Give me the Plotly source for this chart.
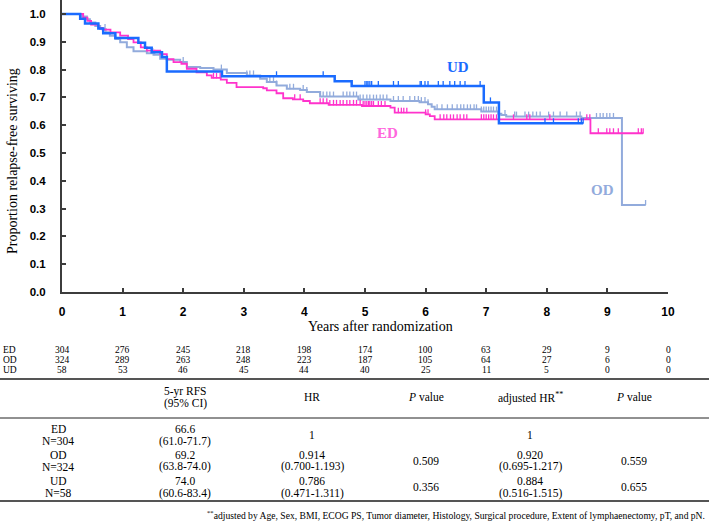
import numpy as np
import plotly.graph_objects as go

# ---------------- Kaplan-Meier data ----------------
ed_time = [0, 0.35, 0.42, 0.48, 0.60, 0.67, 0.80, 0.96, 1.09, 1.18, 1.30, 1.40, 1.62, 1.73, 1.84,
           1.97, 2.06, 2.22, 2.39, 2.47, 2.62, 2.72, 2.88, 3.32, 3.38, 3.54, 3.65, 3.81, 3.98, 4.09,
           4.40, 4.95, 5.42, 5.49, 6.00, 6.07, 6.15, 8.72]
ed_surv = [1.0, 0.987, 0.975, 0.962, 0.950, 0.944, 0.934, 0.922, 0.910, 0.898, 0.880, 0.868, 0.856,
           0.838, 0.827, 0.821, 0.803, 0.790, 0.779, 0.770, 0.764, 0.752, 0.737, 0.733, 0.725, 0.715,
           0.697, 0.693, 0.687, 0.679, 0.673, 0.669, 0.663, 0.645, 0.639, 0.633, 0.621, 0.571]
ed_end = 9.59
ed_censor = [2.50, 2.55, 2.61, 3.84, 3.93, 4.26, 4.31, 4.37, 4.42, 4.48, 4.53, 4.59, 4.64, 4.70,
             4.75, 4.81, 4.86, 4.92, 4.97, 5.00, 5.03, 5.06, 5.08, 5.11, 5.14, 5.22, 5.27, 5.33,
             5.55, 5.60, 5.64, 5.69, 6.00, 6.04, 6.24, 6.30, 6.35, 6.41, 6.46, 6.52, 6.57, 6.63,
             6.68, 6.92, 6.96, 7.00, 7.04, 7.08, 7.12, 7.17, 7.45, 7.67, 7.72, 8.05, 8.66, 8.71,
             8.85, 8.99, 9.04, 9.10, 9.18, 9.51, 9.56, 9.59]

od_time = [0, 0.33, 0.41, 0.46, 0.55, 0.63, 0.72, 0.79, 0.88, 0.96, 1.07, 1.18, 1.40, 1.51, 1.62,
           1.73, 1.95, 2.06, 2.28, 2.50, 2.72, 3.05, 3.27, 3.38, 3.54, 3.71, 3.93, 4.04, 4.26, 4.89,
           5.42, 5.90, 6.04, 6.10, 6.15, 6.92, 7.20, 7.25, 7.33, 8.57, 9.24]
od_surv = [1.0, 0.991, 0.981, 0.969, 0.957, 0.946, 0.934, 0.922, 0.910, 0.898, 0.880, 0.866, 0.859,
           0.853, 0.839, 0.835, 0.827, 0.809, 0.806, 0.800, 0.788, 0.779, 0.767, 0.755, 0.743, 0.731,
           0.727, 0.719, 0.703, 0.692, 0.687, 0.683, 0.675, 0.666, 0.657, 0.649, 0.641, 0.637, 0.631,
           0.626, 0.313]
od_end = 9.63
od_censor = [0.71, 1.50, 1.53, 2.00, 2.63, 3.05, 3.10, 3.16, 3.43, 3.49, 3.54, 3.76, 3.82, 3.98,
             4.04, 4.26, 4.31, 4.37, 4.42, 4.48, 4.64, 4.70, 4.75, 4.81, 4.86, 4.92, 4.97, 5.03,
             5.08, 5.14, 5.19, 5.25, 5.30, 5.36, 5.47, 5.55, 5.63, 5.74, 5.82, 5.88, 5.93, 5.99,
             6.04, 6.19, 6.27, 6.36, 6.44, 6.52, 6.58, 6.63, 6.69, 6.74, 6.80, 6.84, 6.92, 6.96,
             7.00, 7.04, 7.08, 7.12, 7.17, 7.31, 7.47, 7.50, 7.64, 7.70, 7.77, 7.83, 7.89, 8.03,
             8.11, 8.22, 8.33, 8.49, 8.55, 8.82, 8.88, 8.93, 8.99, 9.04, 9.10, 9.63]

ud_time = [0, 0.30, 0.38, 0.60, 0.68, 0.88, 1.26, 1.37, 1.48, 1.65, 1.73, 2.64, 4.50, 4.78, 6.96, 7.21]
ud_surv = [1.0, 0.983, 0.966, 0.948, 0.931, 0.914, 0.897, 0.879, 0.862, 0.845, 0.793, 0.776,
           0.758, 0.741, 0.682, 0.607]
ud_end = 8.60
ud_censor = [3.54, 4.31, 5.00, 5.03, 5.05, 5.08, 5.11, 5.22, 5.47, 5.55, 5.91, 5.93, 5.99, 6.04,
             6.21, 6.29, 6.40, 6.48, 6.57, 6.65, 6.90, 7.07, 7.97, 8.11, 8.52, 8.57, 8.60]

x_ticks = list(range(0, 11))
y_ticks = [0.0, 0.1, 0.2, 0.3, 0.4, 0.5, 0.6, 0.7, 0.8, 0.9, 1.0]

# ---------------- Numbers at risk ----------------
risk_groups = ["ED", "OD", "UD"]
risk_ed = [304, 276, 245, 218, 198, 174, 100, 63, 29, 9, 0]
risk_od = [324, 289, 263, 248, 223, 187, 105, 64, 27, 6, 0]
risk_ud = [58, 53, 46, 45, 44, 40, 25, 11, 5, 0, 0]

# ---------------- Results table ----------------
tbl_groups = ["ED", "OD", "UD"]
tbl_n = ["N=304", "N=324", "N=58"]
rfs_est = ["66.6", "69.2", "74.0"]
rfs_ci = ["(61.0-71.7)", "(63.8-74.0)", "(60.6-83.4)"]
hr_est = ["1", "0.914", "0.786"]
hr_ci = ["", "(0.700-1.193)", "(0.471-1.311)"]
hr_p = ["", "0.509", "0.356"]
adj_est = ["1", "0.920", "0.884"]
adj_ci = ["", "(0.695-1.217)", "(0.516-1.515)"]
adj_p = ["", "0.559", "0.655"]
footnote = ("<sup>**</sup>adjusted by Age, Sex, BMI, ECOG PS, Tumor diameter, Histology, "
            "Surgical procedure, Extent of lymphaenectomy, pT, and pN.")

# ---------------- styling ----------------
W, H = 709, 525
ML, MR, MT, MB = 62, 41, 0, 233
PW, PH = W - ML - MR, H - MT - MB
SERIF = "Liberation Serif, Times New Roman, serif"
SANS = "Liberation Sans, Arial, sans-serif"
AXC = "#3c3c3c"

C_ED, C_OD, C_UD = "#ff33cc", "#92abdc", "#1a6bff"
C_ED_LBL = "#ff66dd"


def px(xp):
    return (xp - ML) / PW


def py(yp):
    return (H - MB - yp) / PH


fig = go.Figure()


def add_group(times, surv, end, censor, color, width):
    xs = list(times) + [end]
    ys = list(surv) + [surv[-1]]
    fig.add_trace(go.Scatter(x=xs, y=ys, mode="lines", line=dict(color=color, width=width, shape="hv"),
                             showlegend=False, hoverinfo="skip"))
    t = np.array(times)
    s = np.array(surv)
    idx = np.searchsorted(t, np.array(censor), side="right") - 1
    cy = s[idx]
    fig.add_trace(go.Scatter(x=censor, y=cy, mode="markers",
                             marker=dict(size=1, color=color),
                             error_y=dict(type="data", symmetric=False, array=[0.018] * len(censor),
                                          arrayminus=[0] * len(censor), color=color,
                                          thickness=1.3, width=0),
                             showlegend=False, hoverinfo="skip"))


add_group(od_time, od_surv, od_end, od_censor, C_OD, 2.0)
add_group(ed_time, ed_surv, ed_end, ed_censor, C_ED, 1.8)
add_group(ud_time, ud_surv, ud_end, ud_censor, C_UD, 2.5)

ann = []
# curve labels
ann.append(dict(x=px(458), y=py(67), text="<b>UD</b>", font=dict(family=SERIF, size=15, color=C_UD)))
ann.append(dict(x=px(387), y=py(133), text="<b>ED</b>", font=dict(family=SERIF, size=15, color=C_ED_LBL)))
ann.append(dict(x=px(602), y=py(190), text="<b>OD</b>", font=dict(family=SERIF, size=15, color=C_OD)))

# axis titles
ann.append(dict(x=px(12), y=py(161), text="Proportion relapse-free surviving", textangle=-90,
                font=dict(family=SERIF, size=14, color="black")))
ann.append(dict(x=px(380), y=py(326), text="Years after randomization",
                font=dict(family=SERIF, size=14, color="black")))

# numbers at risk
risk_rows = [risk_ed, risk_od, risk_ud]
risk_y = [350, 360, 370]
for g, row, yy in zip(risk_groups, risk_rows, risk_y):
    ann.append(dict(x=px(1), y=py(yy), text=g, xanchor="left",
                    font=dict(family=SERIF, size=9.5, color="black")))
    for xt, v in zip(x_ticks, row):
        ann.append(dict(x=xt, xref="x", y=py(yy), text=str(v),
                        font=dict(family=SERIF, size=9.5, color="black")))

# results table
col_x = [58, 185, 312, 426, 530, 634]
TF = dict(family=SERIF, size=11.5, color="black")
ann.append(dict(x=px(col_x[1]), y=py(391), text="5-yr RFS", font=TF))
ann.append(dict(x=px(col_x[1]), y=py(403), text="(95% CI)", font=TF))
ann.append(dict(x=px(col_x[2]), y=py(397), text="HR", font=TF))
ann.append(dict(x=px(col_x[3]), y=py(397), text="<i>P</i> value", font=TF))
ann.append(dict(x=px(col_x[4]), y=py(397), text="adjusted HR<sup>**</sup>", font=TF))
ann.append(dict(x=px(col_x[5]), y=py(397), text="<i>P</i> value", font=TF))

row_top = [429, 455, 481]
for i in range(3):
    y1, y2 = row_top[i], row_top[i] + 12
    ym = (y1 + y2) / 2
    ann.append(dict(x=px(col_x[0]), y=py(y1), text=tbl_groups[i], font=TF))
    ann.append(dict(x=px(col_x[0]), y=py(y2), text=tbl_n[i], font=TF))
    ann.append(dict(x=px(col_x[1]), y=py(y1), text=rfs_est[i], font=TF))
    ann.append(dict(x=px(col_x[1]), y=py(y2), text=rfs_ci[i], font=TF))
    for cx, est, ci in [(col_x[2], hr_est[i], hr_ci[i]), (col_x[4], adj_est[i], adj_ci[i])]:
        if ci:
            ann.append(dict(x=px(cx), y=py(y1), text=est, font=TF))
            ann.append(dict(x=px(cx), y=py(y2), text=ci, font=TF))
        else:
            ann.append(dict(x=px(cx), y=py(ym), text=est, font=TF))
    if hr_p[i]:
        ann.append(dict(x=px(col_x[3]), y=py(ym), text=hr_p[i], font=TF))
    if adj_p[i]:
        ann.append(dict(x=px(col_x[5]), y=py(ym), text=adj_p[i], font=TF))

ann.append(dict(x=px(707), y=py(523), text=footnote, xanchor="right", yanchor="bottom",
                font=dict(family=SERIF, size=9.6, color="black")))

for a in ann:
    a.setdefault("xref", "paper")
    a.setdefault("yref", "paper")
    a.setdefault("xanchor", "center")
    a.setdefault("yanchor", "middle")
    a["showarrow"] = False

shapes = [
    dict(type="line", xref="paper", yref="paper", x0=px(0), x1=px(W), y0=py(379), y1=py(379),
         line=dict(color="#555555", width=2)),
    dict(type="line", xref="paper", yref="paper", x0=px(0), x1=px(W), y0=py(418), y1=py(418),
         line=dict(color="#222222", width=1)),
    dict(type="line", xref="paper", yref="paper", x0=px(0), x1=px(W), y0=py(501), y1=py(501),
         line=dict(color="#555555", width=2)),
]

fig.update_layout(
    width=W, height=H,
    margin=dict(l=ML, r=MR, t=MT, b=MB),
    paper_bgcolor="white", plot_bgcolor="white",
    annotations=ann, shapes=shapes,
    xaxis=dict(range=[0, 10], tickvals=x_ticks, ticktext=[str(v) for v in x_ticks],
               showgrid=False, zeroline=False, showline=True, linecolor=AXC, linewidth=2,
               ticks="inside", ticklen=4, tickwidth=1.5, tickcolor=AXC, ticklabelstandoff=8,
               tickfont=dict(family=SANS, size=12, color="black", weight="bold")),
    yaxis=dict(range=[0, PH / 278.0], tickvals=y_ticks, ticktext=[f"{v:.1f}" for v in y_ticks],
               showgrid=False, zeroline=False, showline=True, linecolor=AXC, linewidth=2,
               ticks="inside", ticklen=4, tickwidth=1.5, tickcolor=AXC, ticklabelstandoff=12,
               tickfont=dict(family=SANS, size=11.5, color="black", weight="bold")),
)

fig.write_html("out.html", config={"displayModeBar": False},
               post_script="document.body.style.margin='0px';document.body.style.padding='0px';")
